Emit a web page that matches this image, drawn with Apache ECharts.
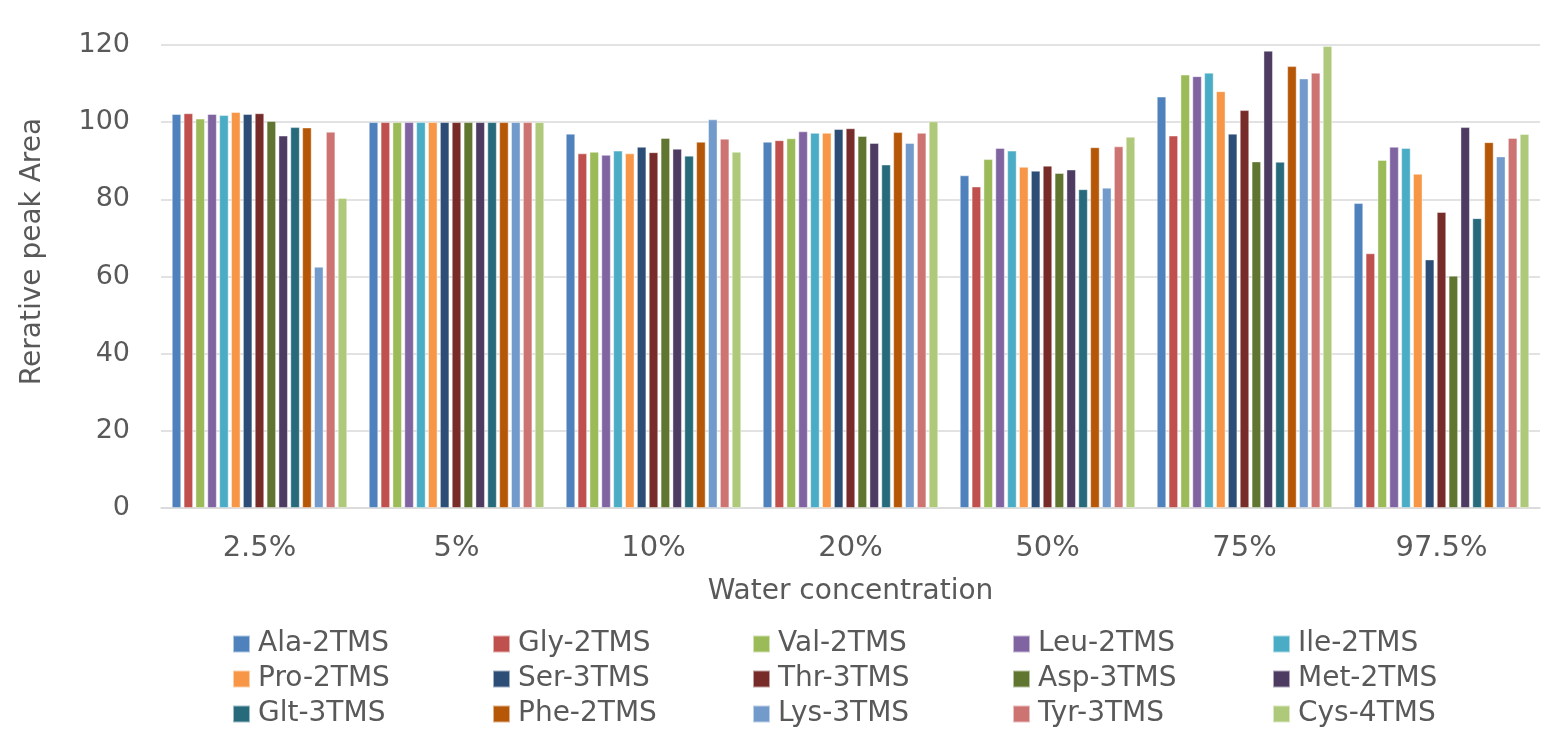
<!DOCTYPE html>
<html>
<head>
<meta charset="utf-8">
<script src="https://cdn.jsdelivr.net/npm/echarts@6/dist/echarts.min.js"></script>
<style>
  html, body { margin: 0; padding: 0; background: #fff; }
  #chart { width: 1544px; height: 735px; }
</style>
</head>
<body>
<div id="chart"></div>
<script>
// Water concentration groups on the x axis
const categories = ['2.5%', '5%', '10%', '20%', '50%', '75%', '97.5%'];

// Relative peak area of each derivative per water concentration
const ala = [102.1, 100, 97.0, 94.9, 86.2, 106.6, 79.0];
const gly = [102.3, 100, 91.9, 95.3, 83.3, 96.5, 66.0];
const val = [100.9, 100, 92.3, 95.8, 90.4, 112.3, 90.2];
const leu = [102.1, 100, 91.5, 97.6, 93.3, 111.9, 93.6];
const ile = [101.8, 100, 92.6, 97.2, 92.6, 112.8, 93.3];
const pro = [102.6, 100, 91.9, 97.2, 88.4, 108.0, 86.6];
const ser = [102.1, 100, 93.6, 98.2, 87.4, 97.0, 64.4];
const thr = [102.3, 100, 92.2, 98.4, 88.7, 103.1, 76.7];
const asp = [100.3, 100, 95.9, 96.4, 86.8, 89.8, 60.2];
const met = [96.5, 100, 93.1, 94.6, 87.7, 118.5, 98.7];
const glt = [98.7, 100, 91.3, 89.0, 82.6, 89.7, 75.1];
const phe = [98.6, 100, 94.9, 97.4, 93.5, 114.5, 94.8];
const lys = [62.5, 100, 100.7, 94.6, 83.0, 111.3, 91.1];
const tyr = [97.5, 100, 95.7, 97.2, 93.7, 112.8, 95.9];
const cys = [80.3, 100, 92.3, 100.2, 96.2, 119.7, 96.9];

const seriesNames = ['Ala-2TMS', 'Gly-2TMS', 'Val-2TMS', 'Leu-2TMS', 'Ile-2TMS',
                     'Pro-2TMS', 'Ser-3TMS', 'Thr-3TMS', 'Asp-3TMS', 'Met-2TMS',
                     'Glt-3TMS', 'Phe-2TMS', 'Lys-3TMS', 'Tyr-3TMS', 'Cys-4TMS'];
const seriesValues = [ala, gly, val, leu, ile, pro, ser, thr, asp, met, glt, phe, lys, tyr, cys];
const seriesColors = ['#4F81BD', '#C0504D', '#9BBB59', '#8064A2', '#4BACC6',
                      '#F79646', '#2C4D75', '#772C2A', '#5F7530', '#4D3B62',
                      '#276A7C', '#B65708', '#729ACA', '#CD7371', '#AFC97A'];

// y axis ticks
const yMin = 0, yMax = 120, yStep = 20;

const FONT = 'DejaVu Sans';
const TEXT = '#595959';

const chart = echarts.init(document.getElementById('chart'), null, { renderer: 'canvas' });

// legend laid out as three rows of five equally spaced columns
const legendRowCenters = [644, 679, 714];
const legends = legendRowCenters.map((cy, r) => ({
  data: seriesNames.slice(r * 5, r * 5 + 5),
  orient: 'horizontal',
  left: 232,
  top: cy - 14,
  itemWidth: 17,
  itemHeight: 17,
  itemGap: 0,
  icon: 'rect',
  padding: 0,
  selectedMode: false,
  textStyle: {
    fontFamily: FONT,
    fontSize: 28,
    color: TEXT,
    width: 234,
    padding: [0, 0, 0, 3],
    lineHeight: 28
  }
}));

const series = seriesNames.map((name, i) => ({
  name: name,
  type: 'bar',
  data: seriesValues[i],
  barGap: '27%',
  barCategoryGap: '11%',
  itemStyle: {
    color: seriesColors[i],
    borderColor: 'rgba(255,255,255,0.55)',
    borderWidth: 0.8
  },
  emphasis: { disabled: true }
}));

chart.setOption({
  animation: false,
  backgroundColor: '#ffffff',
  color: seriesColors,
  grid: { left: 161, right: 4, top: 45, bottom: 227, containLabel: false },
  legend: legends,
  xAxis: {
    type: 'category',
    data: categories,
    name: 'Water concentration',
    nameLocation: 'middle',
    nameGap: 70,
    nameTextStyle: { fontFamily: FONT, fontSize: 28, color: TEXT },
    axisLine: { show: true, lineStyle: { color: '#d9d9d9', width: 1.5 } },
    axisTick: { show: false },
    axisLabel: { fontFamily: FONT, fontSize: 29, color: TEXT, margin: 26 }
  },
  yAxis: {
    type: 'value',
    min: yMin,
    max: yMax,
    interval: yStep,
    name: 'Rerative peak Area',
    nameLocation: 'middle',
    nameRotate: 90,
    nameGap: 114,
    nameTextStyle: { fontFamily: FONT, fontSize: 28, color: TEXT, padding: [0, 0, 0, 50] },
    axisLine: { show: false },
    axisTick: { show: false },
    axisLabel: { fontFamily: FONT, fontSize: 27, color: TEXT, margin: 31 },
    splitLine: { lineStyle: { color: '#d9d9d9', width: 1.5 } }
  },
  series: series
});
</script>
</body>
</html>
